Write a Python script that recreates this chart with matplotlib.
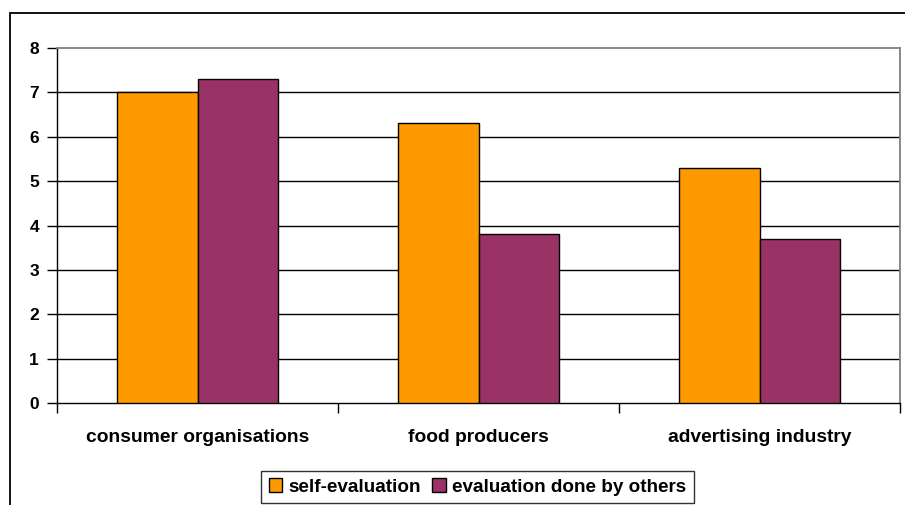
"""
Grouped bar chart: self-evaluation vs. evaluation done by others,
per stakeholder group.
"""
import matplotlib
matplotlib.use("Agg")
import matplotlib.pyplot as plt
from matplotlib.patches import Rectangle
import numpy as np

categories = ["consumer organisations", "food producers", "advertising industry"]
self_eval = [7.0, 6.3, 5.3]
others_eval = [7.3, 3.8, 3.7]
series_names = ["self-evaluation", "evaluation done by others"]
y_ticks = [0, 1, 2, 3, 4, 5, 6, 7, 8]

ORANGE = "#FF9900"
PURPLE = "#993366"
GREY = "#808080"

plt.rcParams["font.family"] = ["Liberation Sans", "DejaVu Sans"]
plt.rcParams["font.weight"] = "bold"

W, H = 905, 505
fig = plt.figure(figsize=(W / 100, H / 100), dpi=100)

# outer chart frame (runs off the right and bottom edges)
fig.patches.append(Rectangle((10 / W, -0.1), 1.2, (H - 13) / H + 0.1,
                             transform=fig.transFigure, fill=False,
                             edgecolor="black", linewidth=1.3))

ax = fig.add_axes([57 / W, (H - 403) / H, (900 - 57) / W, (403 - 48) / H])

x = np.arange(len(categories))
bw = 1 / 3.5  # two bars per category, 150% gap
ax.bar(x - bw / 2, self_eval, bw, color=ORANGE, edgecolor="black",
       linewidth=1, label=series_names[0], zorder=3)
ax.bar(x + bw / 2, others_eval, bw, color=PURPLE, edgecolor="black",
       linewidth=1, label=series_names[1], zorder=3)

ax.set_xlim(-0.5, len(categories) - 0.5)
ax.set_ylim(0, 8)
ax.set_yticks(y_ticks)
ax.set_yticklabels([str(t) for t in y_ticks], fontsize=12.5, fontweight="bold")
for t in y_ticks[1:-1]:
    ax.axhline(t, color="black", linewidth=1, zorder=1)

# category labels between boundary ticks
ax.set_xticks(x)
ax.set_xticklabels(categories, fontsize=13.9, fontweight="bold")
ax.tick_params(axis="x", length=0, pad=19)
ax.set_xticks(np.arange(len(categories) + 1) - 0.5, minor=True)
ax.tick_params(axis="x", which="minor", length=7, width=1, color="black")
ax.tick_params(axis="y", length=7, width=1, color="black", pad=6)

for side in ("top", "right"):
    ax.spines[side].set_color(GREY)
    ax.spines[side].set_linewidth(1.3)
for side in ("left", "bottom"):
    ax.spines[side].set_color("black")
    ax.spines[side].set_linewidth(1)

handles = [Rectangle((0, 0), 1, 1, facecolor=c, edgecolor="black", linewidth=1)
           for c in (ORANGE, PURPLE)]
leg = fig.legend(handles, series_names, loc="center",
                 bbox_to_anchor=(477.5 / W, (H - 487) / H), ncol=2,
                 fontsize=13.6, frameon=True, fancybox=False,
                 handlelength=0.7, handleheight=0.7, handletextpad=0.35,
                 columnspacing=0.6, borderpad=0.4, borderaxespad=0)
leg.get_frame().set_edgecolor("black")
leg.get_frame().set_linewidth(1)
for txt in leg.get_texts():
    txt.set_fontweight("bold")

fig.savefig("out.png", dpi=100)
